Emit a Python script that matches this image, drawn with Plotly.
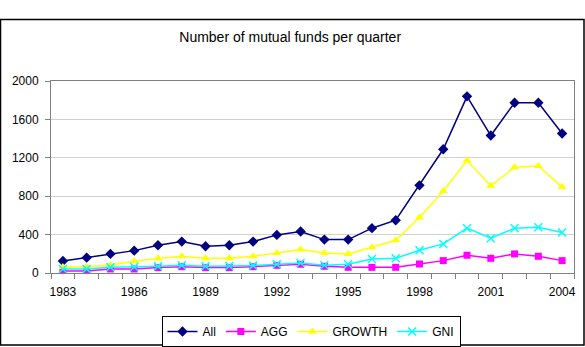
import plotly.graph_objects as go

years = list(range(1983, 2005))
all_funds = [125, 160, 199, 233, 289, 327, 279, 289, 327, 397, 432, 348, 348, 467, 550, 913, 1289, 1840, 1432, 1773, 1773, 1453]
agg = [21, 21, 42, 42, 56, 66, 56, 56, 66, 80, 91, 70, 59, 59, 59, 94, 129, 185, 153, 199, 174, 129]
growth = [63, 66, 84, 122, 150, 174, 153, 153, 174, 209, 244, 209, 199, 268, 341, 578, 854, 1171, 909, 1101, 1115, 895]
gni = [42, 42, 59, 63, 70, 80, 70, 73, 77, 91, 105, 80, 91, 146, 153, 237, 303, 467, 362, 467, 477, 422]
x_labels = [1983, 1986, 1989, 1992, 1995, 1998, 2001, 2004]
y_ticks = [0, 400, 800, 1200, 1600, 2000]

FONT = "Liberation Sans, Arial, sans-serif"
W, H = 585, 347
ML, MR, MT, MB = 51, 11, 81, 74

fig = go.Figure()
fig.add_trace(go.Scatter(x=years, y=all_funds, name="All", mode="lines+markers",
                         line=dict(color="#000080", width=1.5),
                         marker=dict(symbol="diamond", size=8, color="#000080")))
fig.add_trace(go.Scatter(x=years, y=agg, name="AGG", mode="lines+markers",
                         line=dict(color="#FF00FF", width=1.5),
                         marker=dict(symbol="square", size=7, color="#FF00FF")))
fig.add_trace(go.Scatter(x=years, y=growth, name="GROWTH", mode="lines+markers",
                         line=dict(color="#FFFF00", width=1.5),
                         marker=dict(symbol="triangle-up", size=8, color="#FFFF00")))
fig.add_trace(go.Scatter(x=years, y=gni, name="GNI", mode="lines+markers",
                         line=dict(color="#00FFFF", width=1.5),
                         marker=dict(symbol="x-thin", size=8, color="#00FFFF",
                                     line=dict(color="#00FFFF", width=1.5))))

pw = W - ML - MR
ph = H - MT - MB
fx = lambda px: (px - ML) / pw
fy = lambda py: (H - MB - py) / ph

fig.update_layout(
    width=W, height=H,
    margin=dict(l=ML, r=MR, t=MT, b=MB, autoexpand=False),
    paper_bgcolor="white", plot_bgcolor="white",
    font=dict(family=FONT, size=12, color="black"),
    title=dict(text="Number of mutual funds per quarter", x=0.496, xanchor="center",
               y=1 - 37.5 / H, yanchor="middle", font=dict(size=14, family=FONT, color="black")),
    showlegend=True,
    legend=dict(orientation="h", x=fx(311), xanchor="center", y=fy(316), yanchor="top",
                bordercolor="black", borderwidth=1, bgcolor="white",
                font=dict(size=12, family=FONT), itemwidth=30, tracegroupgap=0),
    xaxis=dict(range=[1982.5, 2004.5], tickmode="array", tickvals=x_labels,
               ticktext=[str(v) for v in x_labels], ticks="", showgrid=False,
               showline=True, linecolor="#808080", linewidth=1, mirror=True,
               zeroline=False, ticklabelstandoff=8,
               minor=dict(tickmode="linear", tick0=1982.5, dtick=1, ticks="outside",
                          ticklen=5, tickcolor="#808080", showgrid=False),
               tickfont=dict(size=12, family=FONT)),
    yaxis=dict(range=[0, 2000], tickmode="array", tickvals=y_ticks, ticks="outside",
               ticklen=5, tickcolor="#808080", showgrid=True, gridcolor="#D0D0D0",
               gridwidth=1, showline=True, linecolor="#808080", linewidth=1, mirror=True,
               zeroline=False, ticklabelstandoff=4, tickfont=dict(size=12, family=FONT)),
    shapes=[dict(type="rect", xref="paper", yref="paper",
                 x0=fx(0.5), x1=fx(584), y0=fy(345), y1=fy(19.5),
                 line=dict(color="black", width=1.5), fillcolor="rgba(0,0,0,0)", layer="below")],
)

fig.write_html("out.html")
